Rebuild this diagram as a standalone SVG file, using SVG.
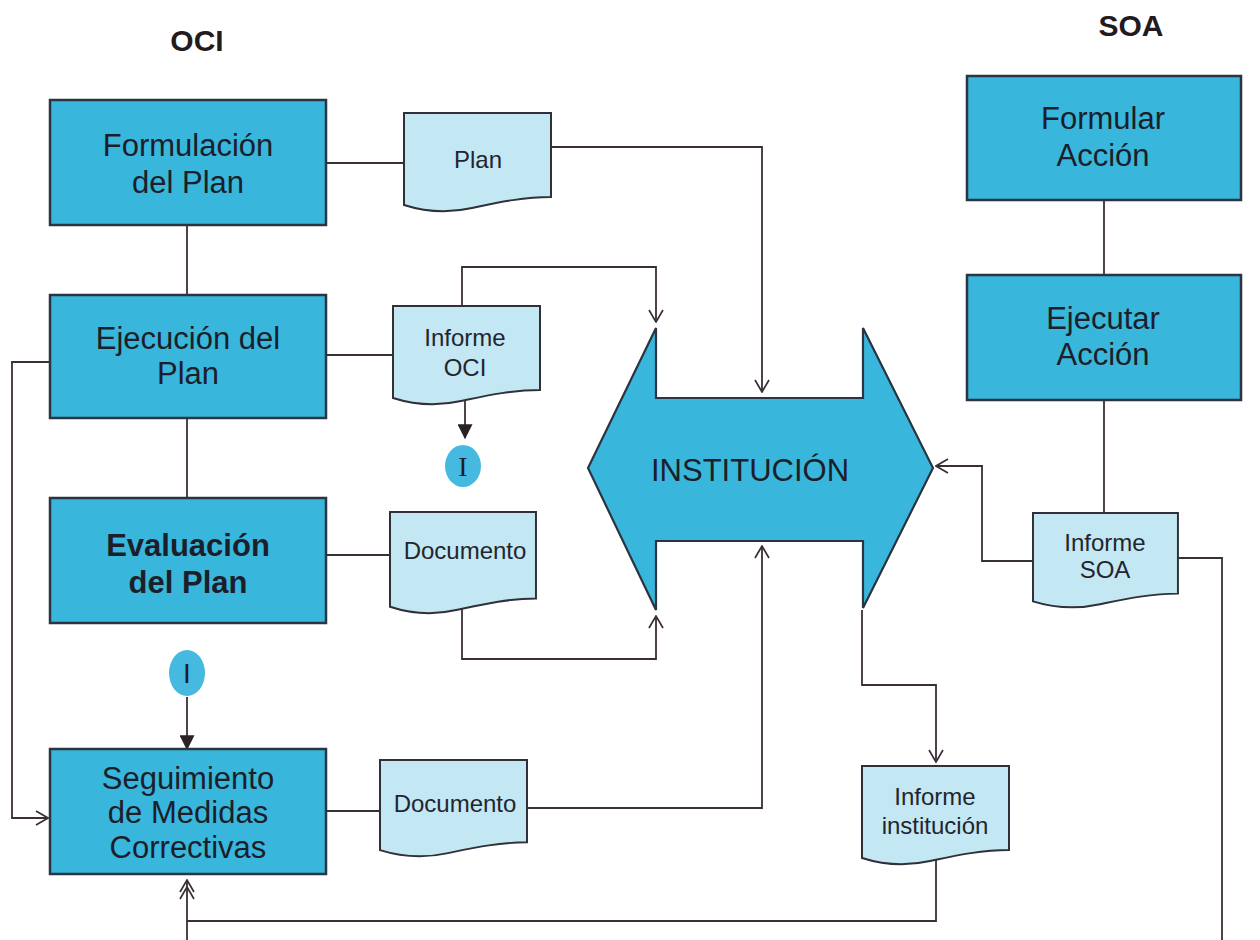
<svg xmlns="http://www.w3.org/2000/svg" width="1260" height="940" viewBox="0 0 1260 940">
  <style>
    .box { fill: #38b6dc; stroke: #2b3440; stroke-width: 2.5; }
    .doc { fill: #c3e7f3; stroke: #2f3038; stroke-width: 2; }
    .big { fill: #38b6dc; stroke: #2b3440; stroke-width: 2.2; }
    .lbl { font-family: "Liberation Sans", Arial, sans-serif; font-size: 31px; fill: #1c1e2a; text-anchor: middle; }
    .lblb { font-family: "Liberation Sans", Arial, sans-serif; font-size: 31px; font-weight: bold; fill: #1c1e2a; text-anchor: middle; }
    .dlbl { font-family: "Liberation Sans", Arial, sans-serif; font-size: 24px; fill: #23252e; text-anchor: middle; }
    .ttl { font-family: "Liberation Sans", Arial, sans-serif; font-size: 30px; font-weight: bold; fill: #231a1e; text-anchor: middle; }
    .wire { fill: none; stroke: #3a2f35; stroke-width: 1.8; }
    .conn { fill: #45b9e0; }
  </style>
  <defs>
    <!-- document symbol with wavy lower edge, 147 x 97 -->
    <path id="docShape" d="M0,0 H147 V84 C118,84 92,90 68,95 C46,100 22,99 0,92 Z"/>
    <marker id="open" viewBox="0 0 14 16" refX="13" refY="8" markerWidth="14" markerHeight="16" markerUnits="userSpaceOnUse" orient="auto">
      <path d="M1,1 L13,8 L1,15" fill="none" stroke="#3a2f35" stroke-width="1.7"/>
    </marker>
    <marker id="open2" viewBox="0 0 22 16" refX="21" refY="8" markerWidth="22" markerHeight="16" markerUnits="userSpaceOnUse" orient="auto">
      <path d="M9,1 L21,8 L9,15 M2,1 L14,8 L2,15" fill="none" stroke="#3a2f35" stroke-width="1.7"/>
    </marker>
    <marker id="solid" viewBox="0 0 12 12" refX="11" refY="6" markerWidth="15" markerHeight="15" markerUnits="userSpaceOnUse" orient="auto">
      <path d="M0,0 L12,6 L0,12 Z" fill="#2a2226"/>
    </marker>
  </defs>

  <rect width="1260" height="940" fill="#ffffff"/>

  <text class="ttl" x="197" y="51">OCI</text>
  <text class="ttl" x="1131" y="36">SOA</text>

  <!-- connectors -->
  <g id="connectors">
    <!-- OCI chain -->
    <path class="wire" d="M187,225 V295"/>
    <path class="wire" d="M187,418 V498"/>
    <path class="wire" d="M50,362 H12 V818 H48" marker-end="url(#open)"/>
    <path class="wire" d="M326,163 H404"/>
    <path class="wire" d="M326,355 H393"/>
    <path class="wire" d="M326,555 H390"/>
    <path class="wire" d="M326,811 H380"/>
    <!-- documents to the institution -->
    <path class="wire" d="M552,147 H762 V392" marker-end="url(#open)"/>
    <path class="wire" d="M462,306 V267 H656 V322" marker-end="url(#open)"/>
    <path class="wire" d="M462,608 V659 H656 V616" marker-end="url(#open)"/>
    <path class="wire" d="M527,808 H762 V546" marker-end="url(#open)"/>
    <!-- connector I -->
    <path class="wire" d="M465,400 V438" marker-end="url(#solid)"/>
    <path class="wire" d="M187,697 V749" marker-end="url(#solid)"/>
    <!-- institution report -->
    <path class="wire" d="M862,610 V685 H936 V762" marker-end="url(#open)"/>
    <path class="wire" d="M936,856 V921 H187"/>
    <path class="wire" d="M187,940 V880" marker-end="url(#open2)"/>
    <!-- SOA chain -->
    <path class="wire" d="M1104,200 V275"/>
    <path class="wire" d="M1104,400 V513"/>
    <path class="wire" d="M1033,561 H982 V466 H936" marker-end="url(#open)"/>
    <path class="wire" d="M1178,558 H1222 V940"/>
  </g>

  <!-- OCI process boxes -->
  <g id="formulacion">
    <rect class="box" x="50" y="100" width="276" height="125"/>
    <text class="lbl" x="188" y="156">Formulación</text>
    <text class="lbl" x="188" y="193">del Plan</text>
  </g>
  <g id="ejecucion">
    <rect class="box" x="50" y="295" width="276" height="123"/>
    <text class="lbl" x="188" y="349">Ejecución del</text>
    <text class="lbl" x="188" y="384">Plan</text>
  </g>
  <g id="evaluacion">
    <rect class="box" x="50" y="498" width="276" height="125"/>
    <text class="lblb" x="188" y="556">Evaluación</text>
    <text class="lblb" x="188" y="593">del Plan</text>
  </g>
  <g id="seguimiento">
    <rect class="box" x="50" y="749" width="276" height="125"/>
    <text class="lbl" x="188" y="789">Seguimiento</text>
    <text class="lbl" x="188" y="823">de Medidas</text>
    <text class="lbl" x="188" y="858">Correctivas</text>
  </g>

  <!-- documents -->
  <g id="doc-plan">
    <use href="#docShape" class="doc" transform="translate(404,113)"/>
    <text class="dlbl" x="478" y="168">Plan</text>
  </g>
  <g id="doc-informe-oci">
    <use href="#docShape" class="doc" transform="translate(393,306)"/>
    <text class="dlbl" x="465" y="346">Informe</text>
    <text class="dlbl" x="465" y="376">OCI</text>
  </g>
  <g id="doc-documento-1">
    <use href="#docShape" class="doc" transform="translate(390,512) scale(0.993,1.03)"/>
    <text class="dlbl" x="465" y="559">Documento</text>
  </g>
  <g id="doc-documento-2">
    <use href="#docShape" class="doc" transform="translate(380,760) scale(1,0.98)"/>
    <text class="dlbl" x="455" y="812">Documento</text>
  </g>
  <g id="doc-informe-institucion">
    <use href="#docShape" class="doc" transform="translate(862,766)"/>
    <text class="dlbl" x="935" y="805">Informe</text>
    <text class="dlbl" x="935" y="834">institución</text>
  </g>
  <g id="doc-informe-soa">
    <use href="#docShape" class="doc" transform="translate(1033,513) scale(0.986,0.96)"/>
    <text class="dlbl" x="1105" y="551">Informe</text>
    <text class="dlbl" x="1105" y="578">SOA</text>
  </g>

  <!-- connector circles -->
  <g id="conn-i-top">
    <ellipse class="conn" cx="463" cy="466" rx="18" ry="21"/>
    <text x="463" y="476" text-anchor="middle" font-family="Liberation Serif, serif" font-size="28" fill="#1c1e2a">I</text>
  </g>
  <g id="conn-i-bottom">
    <ellipse class="conn" cx="187" cy="673" rx="18" ry="23"/>
    <text x="187" y="683" text-anchor="middle" font-family="Liberation Sans, sans-serif" font-size="28" fill="#1c1e2a">I</text>
  </g>

  <!-- institution double arrow -->
  <g id="institucion">
    <path class="big" d="M588,468 L656,328 V398 H863 V328 L933,468 L863,608 V541 H656 V610 Z"/>
    <text class="lbl" x="750" y="481">INSTITUCIÓN</text>
  </g>

  <!-- SOA process boxes -->
  <g id="formular">
    <rect class="box" x="967" y="76" width="274" height="124"/>
    <text class="lbl" x="1103" y="129">Formular</text>
    <text class="lbl" x="1103" y="166">Acción</text>
  </g>
  <g id="ejecutar">
    <rect class="box" x="967" y="275" width="274" height="125"/>
    <text class="lbl" x="1103" y="329">Ejecutar</text>
    <text class="lbl" x="1103" y="365">Acción</text>
  </g>
</svg>
